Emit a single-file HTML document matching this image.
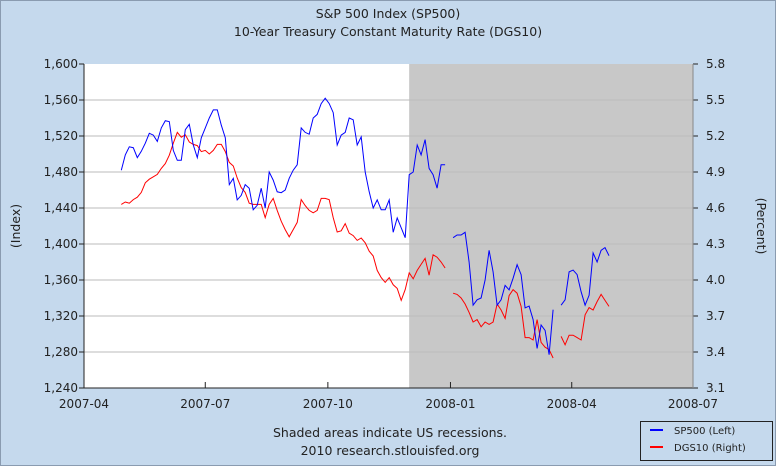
<!DOCTYPE html>
<html><head><meta charset="utf-8"><style>
body{margin:0;background:#c5d9ed;}
svg{display:block;font-family:"DejaVu Sans","Liberation Sans",sans-serif;}
</style></head><body>
<svg id="c" width="776" height="466">
<rect x="0.5" y="0.5" width="775" height="465" fill="#c5d9ed" stroke="#8a9bb0"/>
<text x="388" y="18" text-anchor="middle" font-size="12.5" fill="#222">S&amp;P 500 Index (SP500)</text>
<text x="388" y="36" text-anchor="middle" font-size="12.5" fill="#222">10-Year Treasury Constant Maturity Rate (DGS10)</text>
<g id="plot"></g>
<text transform="translate(20,226) rotate(-90)" text-anchor="middle" font-size="12.5" fill="#222">(Index)</text>
<text transform="translate(757,226) rotate(90)" text-anchor="middle" font-size="12.5" fill="#222">(Percent)</text>
<text x="390" y="437" text-anchor="middle" font-size="12.5" fill="#222">Shaded areas indicate US recessions.</text>
<text x="390" y="455" text-anchor="middle" font-size="12.5" fill="#222">2010 research.stlouisfed.org</text>
<g>
<rect x="640.5" y="421.5" width="132" height="39" fill="#c5d9ed" stroke="#222"/>
<line x1="650" y1="430" x2="663" y2="430" stroke="#0000ff" stroke-width="2"/>
<text x="674" y="434" font-size="10" fill="#222">SP500 (Left)</text>
<line x1="650" y1="447" x2="663" y2="447" stroke="#ff0000" stroke-width="2"/>
<text x="674" y="451" font-size="10" fill="#222">DGS10 (Right)</text>
</g>
</svg>
<script>
const startDay = 28; // days since 2007-04-01
const stepDays = 3;
const sp500 = [1482,1499,1508,1507,1496,1503,1512,1523,1521,1514,1529,1537,1536,1504,1493,1493,1527,1533,1510,1496,1518,1529,1540,1549,1549,1532,1518,1466,1473,1449,1454,1466,1462,1438,1443,1462,1440,1480,1471,1458,1457,1460,1473,1482,1488,1529,1524,1522,1540,1544,1556,1562,1556,1546,1510,1521,1524,1540,1538,1510,1519,1480,1458,1440,1449,1438,1438,1449,1413,1429,1418,1407,1477,1480,1510,1499,1516,1484,1477,1462,1488,1488,null,1407,1410,1410,1413,1380,1332,1338,1340,1360,1393,1369,1332,1338,1354,1349,1362,1377,1366,1329,1331,1316,1284,1310,1304,1277,1327,null,1332,1338,1369,1371,1366,1347,1332,1343,1390,1380,1393,1396,1387];
const dgs10 = [4.63,4.65,4.64,4.67,4.69,4.73,4.81,4.84,4.86,4.88,4.93,4.97,5.04,5.14,5.23,5.19,5.21,5.15,5.13,5.12,5.07,5.08,5.05,5.08,5.13,5.13,5.07,4.98,4.95,4.85,4.77,4.73,4.64,4.63,4.63,4.63,4.52,4.63,4.68,4.58,4.49,4.42,4.36,4.42,4.48,4.67,4.62,4.58,4.56,4.58,4.68,4.68,4.67,4.52,4.40,4.41,4.47,4.39,4.37,4.33,4.35,4.31,4.24,4.20,4.08,4.02,3.98,4.02,3.96,3.93,3.83,3.92,4.06,4.01,4.08,4.13,4.18,4.04,4.21,4.19,4.15,4.10,null,3.89,3.88,3.85,3.80,3.73,3.65,3.67,3.61,3.65,3.63,3.65,3.80,3.75,3.68,3.87,3.92,3.89,3.78,3.52,3.52,3.50,3.67,3.48,3.44,3.42,3.35,null,3.53,3.46,3.54,3.54,3.52,3.50,3.71,3.77,3.75,3.82,3.88,3.83,3.78];
const leftTicks = [1240,1280,1320,1360,1400,1440,1480,1520,1560,1600];
const rightTicks = [3.1,3.4,3.7,4.0,4.3,4.6,4.9,5.2,5.5,5.8];
const xTickLabels = ["2007-04","2007-07","2007-10","2008-01","2008-04","2008-07"];
const xTickDays = [0,91,183,275,366,457];
const recessionStartDay = 244;

const L=84,R=693,T=64,B=388;
const xS=d=>L+(d/457)*(R-L);
const yL=v=>B-(v-1240)/(1600-1240)*(B-T);
const yR=v=>B-(v-3.1)/(5.8-3.1)*(B-T);
const NS="http://www.w3.org/2000/svg";
const g=document.getElementById('plot');
function mk(tag,attrs,parent){const e=document.createElementNS(NS,tag);for(const k in attrs)e.setAttribute(k,attrs[k]);(parent||g).appendChild(e);return e;}

const bg=mk('rect',{x:L,y:T,width:R-L,height:B-T,fill:'#fff'});


const rec=mk('rect',{x:xS(recessionStartDay),y:T,width:R-xS(recessionStartDay),height:B-T,fill:'#c8c8c8'});



leftTicks.forEach((v,i)=>{
  const y=yL(v);
  if(i>0&&i<leftTicks.length-1){const gl=mk('line',{x1:L,x2:R,y1:y,y2:y,stroke:'#bbb','stroke-width':1});
  
  }
  mk('line',{x1:L-5,x2:L,y1:y,y2:y,stroke:'#222'});
  const t=mk('text',{x:L-6,y:y+4,'text-anchor':'end','font-size':12,fill:'#222'});
  t.textContent=v.toLocaleString('en-US');
  
  
});
rightTicks.forEach(v=>{
  const y=yR(v);
  mk('line',{x1:R,x2:R+5,y1:y,y2:y,stroke:'#222'});
  const t=mk('text',{x:R+13,y:y+4,'font-size':12,fill:'#222'});
  t.textContent=v.toFixed(1);
  
  
});
xTickDays.forEach((d,i)=>{
  const x=xS(d);
  mk('line',{x1:x,x2:x,y1:B-6,y2:B,stroke:'#222'});
  const t=mk('text',{x:x,y:B+20,'text-anchor':'middle','font-size':12,fill:'#222'});
  t.textContent=xTickLabels[i];
  
  
});
mk('line',{x1:L,x2:L,y1:T,y2:B,stroke:'#222'});
mk('line',{x1:L,x2:R,y1:B,y2:B,stroke:'#222'});
mk('line',{x1:R,x2:R,y1:T,y2:B,stroke:'#888'});

function path(arr,ys){
  let d='',pen=false;
  arr.forEach((v,i)=>{
    if(v===null){pen=false;return;}
    const x=xS(startDay+i*stepDays),y=ys(v);
    d+=(pen?'L':'M')+x.toFixed(1)+','+y.toFixed(1);pen=true;
  });
  return d;
}
const p1=mk('path',{d:path(dgs10,yR),fill:'none',stroke:'#ff0000','stroke-width':1});


const p2=mk('path',{d:path(sp500,yL),fill:'none',stroke:'#0000ff','stroke-width':1});


</script>
</body></html>
